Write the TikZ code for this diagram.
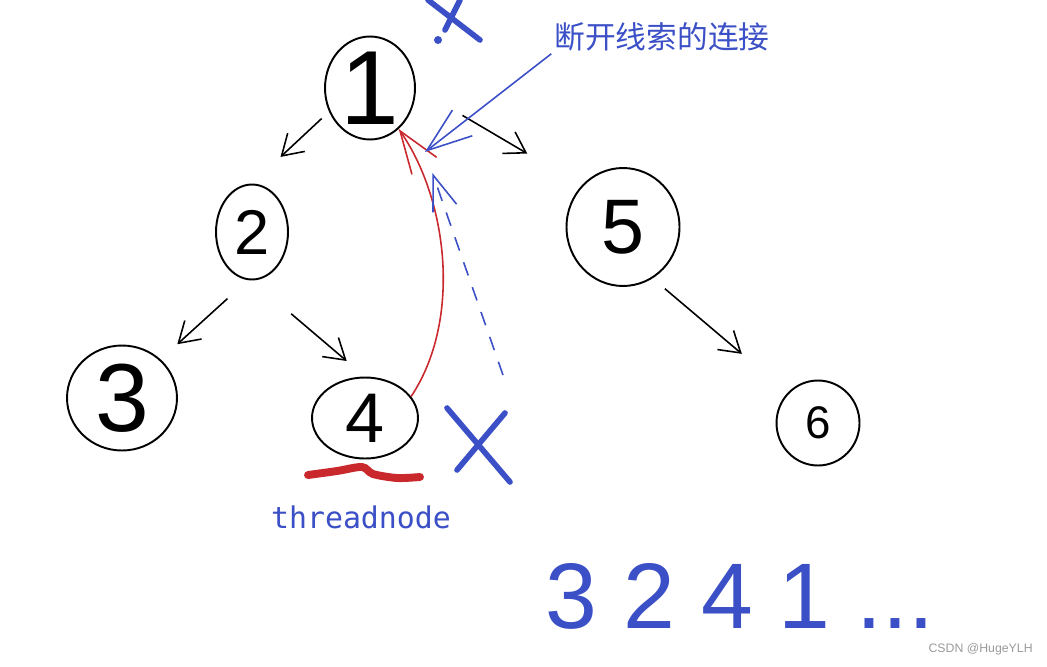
\documentclass[tikz,border=0pt]{standalone}
\usepackage{fontspec}
\setmainfont{Liberation Sans}
\newfontfamily\cjk{Noto Sans CJK SC}
\newfontfamily\codefont{DejaVu Sans Mono}
\usetikzlibrary{arrows.meta,shapes.geometric}
\definecolor{inkBlue}{HTML}{3B4FC6}
\definecolor{inkRed}{HTML}{C9282D}
\definecolor{markGray}{HTML}{9A9A9A}
\tikzset{
  tnode/.style n args={4}{ellipse, draw=black, line width=1.1pt, inner sep=0pt,
        minimum width=#1, minimum height=#2,
        label={[font=\fontsize{#3}{#3}\selectfont, inner sep=0pt]center:#4}},
  tedge/.style={-{Straight Barb[length=4mm,width=5mm]}, line width=0.9pt},
  thread/.style={-{Straight Barb[length=8.5mm,width=6mm]}, inkRed, line width=0.9pt},
  tdash/.style={-{Straight Barb[length=7mm,width=5mm]}, inkBlue, line width=0.9pt,
        dash pattern=on 8pt off 7pt},
  note/.style={-{Straight Barb[length=9mm,width=6.5mm]}, inkBlue, line width=0.9pt},
  xmark/.style={inkBlue, line width=3.2pt, line cap=round},
}
\begin{document}
\begin{tikzpicture}[x=0.02cm, y=-0.02cm]
  \useasboundingbox (0,0) rectangle (1047,666);
  % --- tree ---
  \node[tnode={1.8cm}{2.06cm}{60}{1}] (n1) at (370,88) {};
  \node[tnode={1.44cm}{1.9cm}{36}{2}] (n2) at (252,232) {};
  \node[tnode={2.2cm}{2.1cm}{55}{3}] (n3) at (122,398) {};
  \node[tnode={2.12cm}{1.62cm}{40}{4}] (n4) at (365,418) {};
  \node[tnode={2.26cm}{2.36cm}{44}{5}] (n5) at (623,227) {};
  \node[tnode={1.66cm}{1.7cm}{26}{6}] (n6) at (818,423) {};
  \draw[tedge, shorten <=0.2cm, shorten >=0.78cm] (n1.210) -- (n2.north);
  \draw[tedge, shorten <=1.08cm, shorten >=1.26cm] (n1.east) -- (n5.135);
  \draw[tedge, shorten <=0.55cm, shorten >=0.45cm] (n2.265) -- (n3.45);
  \draw[tedge, shorten <=1.03cm, shorten >=0.48cm] (n2.south) -- (n4.north);
  \draw[tedge, shorten <=0.32cm, shorten >=1.2cm] (n5.300) -- (n6.135);
  % --- thread 4 -> 1 ---
  \draw[thread] (n4.25) .. controls (462,320) and (448,200) .. (n1.305);
  \coordinate (gone) at (503,375);
  \draw[tdash, shorten >=1.3cm] (gone) -- (n1.330);
  % --- notes ---
  \node[font=\cjk\fontsize{17.5}{17.5}\selectfont, text=inkBlue, inner sep=0pt] (cutlbl) at (662,37) {断开线索的连接};
  \coordinate (cut) at (425,152);
  \draw[note, shorten <=2pt] (cutlbl.south west) -- (cut);
  \draw[xmark] (428,0) -- (480,40);
  \draw[xmark] (460,0) -- (445,30);
  \fill[inkBlue] (438,40) circle (4);
  \draw[xmark] (447,408) -- (510,482);
  \draw[xmark] (505,413) -- (457,470);
  \draw[inkRed, line width=4.5pt, line cap=round] plot[smooth] coordinates
       {(308,475) (337,471) (362,467) (373,474) (397,478) (420,477)};
  \node[font=\codefont\fontsize{17}{17}\selectfont, text=inkBlue] (tlbl) at (361,517) {threadnode};
  \node[font=\fontsize{53}{53}\selectfont, text=inkBlue, inner sep=0pt] (order) at (740,596) {3 2 4 1 ...};
  \node[font=\fontsize{7}{7}\selectfont, text=markGray, anchor=east, inner sep=0pt] (mark) at (1033,649) {CSDN @HugeYLH};
\end{tikzpicture}
\end{document}
